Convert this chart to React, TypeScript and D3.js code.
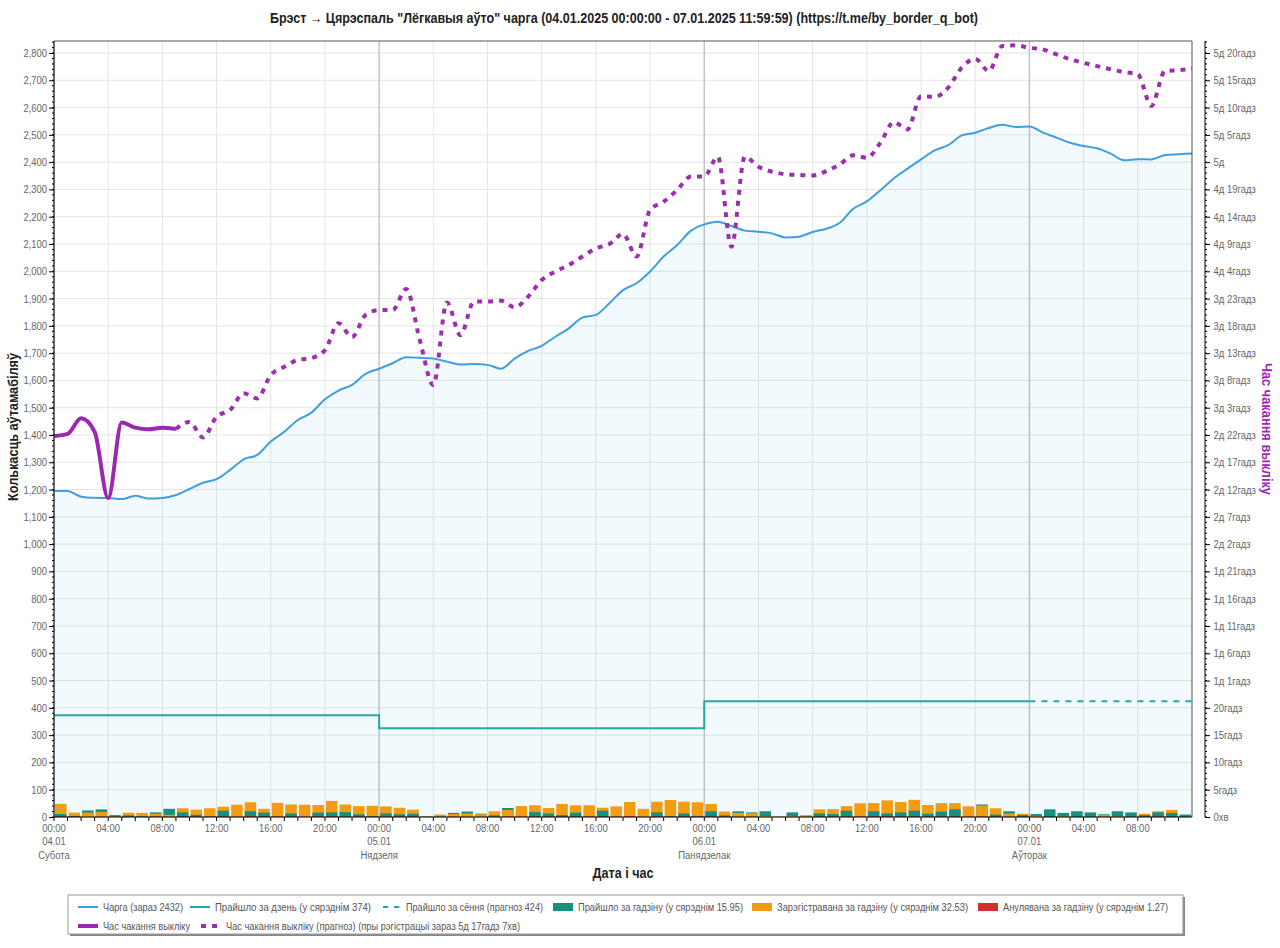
import { useEffect, useRef } from "react"
import * as d3 from "d3"

const title =
  'Брэст → Цярэспаль "Лёгкавыя аўто" чарга (04.01.2025 00:00:00 - 07.01.2025 11:59:59) (https://t.me/by_border_q_bot)'
const startTime = new Date(2025, 0, 4, 0, 0)
const endTime = new Date(2025, 0, 7, 12, 0)
const weekdays = ["Нядзеля", "Панядзелак", "Аўторак", "Серада", "Чацвер", "Пятніца", "Субота"]

// queue size at each hour (00:00 04.01 ... 12:00 07.01)
const queue = [
  1195, 1195, 1174, 1170, 1169, 1165, 1177, 1167, 1169, 1180, 1202, 1225, 1238, 1272, 1311, 1327,
  1376, 1412, 1455, 1482, 1531, 1563, 1584, 1624, 1643, 1663, 1685, 1683, 1680, 1669, 1658, 1660,
  1657, 1643, 1680, 1708, 1727, 1760, 1791, 1830, 1840, 1883, 1931, 1956, 1999, 2054, 2096, 2148,
  2172, 2182, 2166, 2149, 2145, 2139, 2124, 2127, 2144, 2156, 2178, 2229, 2256, 2297, 2341, 2376,
  2410, 2443, 2462, 2498, 2508, 2525, 2537, 2529, 2531, 2508, 2490, 2471, 2459, 2451, 2431, 2407,
  2411, 2410, 2426, 2429, 2432,
]

// passed per day (04.01, 05.01, 06.01) and today's forecast
const passedPerDay = [373, 325, 424]
const passedTodayForecast = 424

// per hour bars
const passedHourly = [
  11, 4, 24, 28, 7, 6, 3, 17, 30, 17, 8, 2, 23, 0, 21, 16, 0, 13, 0, 16, 17, 18, 10, 3,
  13, 10, 12, 2, 2, 15, 20, 12, 6, 33, 0, 18, 13, 7, 16, 0, 23, 0, 0, 0, 17, 2, 13, 4,
  21, 6, 21, 17, 21, 1, 17, 0, 13, 11, 23, 0, 21, 13, 17, 23, 12, 20, 28, 0, 46, 9, 21, 7,
  11, 28, 15, 21, 17, 10, 21, 17, 7, 17, 15, 9,
]
const registeredHourly = [
  48, 16, 16, 18, 2, 16, 15, 12, 8, 32, 27, 32, 38, 45, 54, 30, 52, 46, 45, 44, 59, 46, 40, 41,
  39, 34, 27, 1, 9, 11, 13, 10, 21, 26, 40, 43, 33, 48, 43, 43, 34, 39, 55, 30, 56, 62, 56, 54,
  48, 20, 15, 14, 3, 1, 3, 7, 28, 29, 40, 50, 51, 61, 55, 63, 44, 51, 51, 39, 42, 32, 13, 12,
  4, 0, 2, 0, 0, 7, 2, 0, 12, 21, 26, 0,
]
const cancelledHourly = [
  2, 1, 0, 1, 0, 1, 0, 2, 1, 1, 2, 1, 2, 1, 3, 1, 2, 1, 1, 2, 3, 1, 2, 1,
  1, 2, 1, 0, 0, 1, 1, 0, 1, 2, 1, 2, 1, 2, 1, 2, 1, 1, 3, 1, 2, 3, 2, 2,
  2, 1, 1, 1, 0, 0, 0, 1, 1, 1, 2, 2, 2, 3, 2, 2, 1, 2, 2, 1, 2, 1, 1, 1,
  0, 0, 0, 0, 0, 1, 0, 0, 1, 1, 1, 0,
]

// wait time in minutes: actual (hours 0..9), forecast (hours 9..84)
const waitActual = [4188, 4212, 4383, 4236, 3504, 4338, 4281, 4263, 4281, 4266]
const waitForecastStart = 9
const waitForecast = [
  4266, 4344, 4173, 4401, 4476, 4659, 4602, 4860, 4950, 5025, 5046, 5133, 5430, 5277, 5520, 5574,
  5574, 5805, 5244, 4749, 5658, 5298, 5667, 5667, 5676, 5604, 5721, 5904, 5997, 6069, 6162, 6252,
  6300, 6411, 6162, 6675, 6765, 6894, 7041, 7044, 7260, 6270, 7260, 7149, 7095, 7068, 7059, 7053,
  7101, 7176, 7275, 7248, 7413, 7641, 7560, 7926, 7917, 8019, 8238, 8337, 8202, 8478, 8484, 8457,
  8439, 8385, 8331, 8292, 8256, 8220, 8190, 8166, 7818, 8202, 8211, 8227,
]

// legend: swatch x and text end x are layout positions
const legendItems = [
  { label: "Чарга (зараз 2432)", kind: "line", color: "#3e9fdc", row: 0, x0: 78, x1: 183 },
  { label: "Прайшло за дзень (у сярэднім 374)", kind: "line", color: "#26a8a0", row: 0, x0: 190, x1: 371 },
  { label: "Прайшло за сёння (прагноз 424)", kind: "dash", color: "#26a8a0", row: 0, x0: 381, x1: 543 },
  { label: "Прайшло за гадзіну (у сярэднім 15.95)", kind: "box", color: "#16917f", row: 0, x0: 553, x1: 743 },
  { label: "Зарэгістравана за гадзіну (у сярэднім 32.53)", kind: "box", color: "#f39c12", row: 0, x0: 752, x1: 968 },
  { label: "Анулявана за гадзіну (у сярэднім 1.27)", kind: "box", color: "#d32f2f", row: 0, x0: 978, x1: 1168 },
  { label: "Час чакання выкліку", kind: "thick", color: "#9c27b0", row: 1, x0: 78, x1: 190 },
  {
    label: "Час чакання выкліку (прагноз) (пры рэгістрацыі зараз 5д 17гадз 7хв)",
    kind: "dots",
    color: "#9c2fae",
    row: 1,
    x0: 201,
    x1: 520,
  },
]

const FONT = "'Liberation Sans', Arial, sans-serif"
const NARROW = "scale(0.86,1)"

function fmtDuration(m: number) {
  if (m === 0) return "0хв"
  const d = Math.floor(m / 1440)
  const h = Math.floor((m % 1440) / 60)
  const mi = m % 60
  const parts: string[] = []
  if (d) parts.push(d + "д")
  if (h) parts.push(h + "гадз")
  if (mi) parts.push(mi + "хв")
  return parts.join(" ")
}

export default function App() {
  const svgRef = useRef<SVGSVGElement>(null)

  useEffect(() => {
    if (!svgRef.current) return
    const root = d3.select(svgRef.current)
    root.selectAll("*").remove()

    const width = 1280
    const height = 948
    const margin = { top: 41, right: 88, bottom: 131, left: 54 }
    const w = width - margin.left - margin.right
    const h = height - margin.top - margin.bottom

    root.attr("width", width).attr("height", height).style("font-family", FONT)
    root.append("rect").attr("width", width).attr("height", height).attr("fill", "#fff")

    const at = (i: number) => d3.timeHour.offset(startTime, i)
    const x = d3.scaleTime().domain([startTime, endTime]).range([0, w])
    const y = d3.scaleLinear().domain([0, 2844]).range([h, 0])
    const yRight = d3.scaleLinear().domain([0, 2844 * 3]).range([h, 0])

    const g = root.append("g").attr("transform", `translate(${margin.left},${margin.top})`)

    // grid
    const grid = g.append("g")
    grid
      .selectAll("line.hg")
      .data(d3.range(0, 2801, 100))
      .enter()
      .append("line")
      .attr("x1", 0)
      .attr("x2", w)
      .attr("y1", (d) => y(d))
      .attr("y2", (d) => y(d))
      .attr("stroke", "#e4e4e4")
    const xTicks = d3.timeHour.every(4)!.range(startTime, endTime)
    grid
      .selectAll("line.vg")
      .data(xTicks)
      .enter()
      .append("line")
      .attr("x1", (d) => x(d))
      .attr("x2", (d) => x(d))
      .attr("y1", 0)
      .attr("y2", h)
      .attr("stroke", (d) => (d.getHours() === 0 ? "#c4c4c4" : "#e4e4e4"))
      .attr("stroke-width", (d) => (d.getHours() === 0 ? 1.5 : 1))

    // queue area
    const area = d3
      .area<number>()
      .x((_, i) => x(at(i)))
      .y0(h)
      .y1((d) => y(d))
      .curve(d3.curveMonotoneX)
    g.append("path").datum(queue).attr("d", area).attr("fill", "rgba(54,162,235,0.06)")

    // hourly bars (larger value behind, smaller in front)
    const barW = x(at(1)) - x(at(0))
    const bars = g.append("g")
    passedHourly.forEach((p, i) => {
      const series = [
        { v: p, c: "#16917f" },
        { v: registeredHourly[i], c: "#f39c12" },
        { v: cancelledHourly[i], c: "#d32f2f" },
      ].sort((a, b) => b.v - a.v)
      series.forEach((s) => {
        if (s.v <= 0) return
        bars
          .append("rect")
          .attr("x", x(at(i)) + 1)
          .attr("width", barW - 2)
          .attr("y", y(s.v))
          .attr("height", h - y(s.v))
          .attr("fill", s.c)
      })
    })

    // passed per day step line
    const dayPts: [number, number][] = []
    passedPerDay.forEach((v, d) => {
      dayPts.push([x(at(d * 24)), y(v)])
      dayPts.push([x(at((d + 1) * 24)), y(v)])
    })
    g.append("path")
      .attr("d", d3.line()(dayPts))
      .attr("fill", "none")
      .attr("stroke", "#26a8a0")
      .attr("stroke-width", 2)
    g.append("path")
      .attr(
        "d",
        d3.line()([
          [x(at(72)), y(passedTodayForecast)],
          [x(endTime), y(passedTodayForecast)],
        ])
      )
      .attr("fill", "none")
      .attr("stroke", "#26a8a0")
      .attr("stroke-width", 2)
      .attr("stroke-dasharray", "6,6")

    // queue line
    const qLine = d3
      .line<number>()
      .x((_, i) => x(at(i)))
      .y((d) => y(d))
      .curve(d3.curveMonotoneX)
    g.append("path")
      .datum(queue)
      .attr("d", qLine)
      .attr("fill", "none")
      .attr("stroke", "#3e9fdc")
      .attr("stroke-width", 2)

    // wait time
    const wLine = (offset: number) =>
      d3
        .line<number>()
        .x((_, i) => x(at(i + offset)))
        .y((d) => yRight(d))
        .curve(d3.curveMonotoneX)
    g.append("path")
      .datum(waitForecast)
      .attr("d", wLine(waitForecastStart))
      .attr("fill", "none")
      .attr("stroke", "#9c2fae")
      .attr("stroke-width", 4)
      .attr("stroke-dasharray", "5,6")
    g.append("path")
      .datum(waitActual)
      .attr("d", wLine(0))
      .attr("fill", "none")
      .attr("stroke", "#9c27b0")
      .attr("stroke-width", 4)
      .attr("stroke-linejoin", "round")

    // frame
    g.append("path")
      .attr("d", `M0,0H${w}V${h}`)
      .attr("fill", "none")
      .attr("stroke", "#555")
      .attr("stroke-width", 1)

    // left axis
    const yAxis = g.append("g").call(
      d3
        .axisLeft(y)
        .tickValues(d3.range(0, 2801, 100))
        .tickFormat(d3.format(","))
        .tickSize(5)
        .tickPadding(3)
    )
    yAxis.select(".domain").attr("stroke", "#000").attr("d", `M0,0V${h}`)
    yAxis
      .selectAll("text")
      .attr("fill", "#666")
      .attr("transform", NARROW)
      .style("font-size", "11px")
      .style("font-family", FONT)
    g.append("g")
      .selectAll("line")
      .data(d3.range(0, 2844, 20))
      .enter()
      .append("line")
      .attr("x1", -2)
      .attr("x2", 0)
      .attr("y1", (d) => y(d))
      .attr("y2", (d) => y(d))
      .attr("stroke", "#000")

    // right axis
    const rightX = w + 13
    const yrAxis = g
      .append("g")
      .attr("transform", `translate(${rightX},0)`)
      .call(
        d3
          .axisRight(yRight)
          .tickValues(d3.range(0, 8401, 300))
          .tickFormat((d) => fmtDuration(+d))
          .tickSize(5)
          .tickPadding(5)
      )
    yrAxis.select(".domain").attr("stroke", "#000").attr("d", `M0,0V${h}`)
    yrAxis
      .selectAll("text")
      .attr("fill", "#666")
      .attr("transform", NARROW)
      .style("font-size", "11px")
      .style("font-family", FONT)
    g.append("g")
      .attr("transform", `translate(${rightX},0)`)
      .selectAll("line")
      .data(d3.range(0, 2844 * 3, 60))
      .enter()
      .append("line")
      .attr("x1", 0)
      .attr("x2", 2)
      .attr("y1", (d) => yRight(d))
      .attr("y2", (d) => yRight(d))
      .attr("stroke", "#000")

    // x axis
    const xAxisG = g.append("g").attr("transform", `translate(0,${h})`)
    xAxisG.append("line").attr("x1", 0).attr("x2", w).attr("stroke", "#000")
    xAxisG
      .selectAll("line.minor")
      .data(d3.timeHour.range(startTime, endTime))
      .enter()
      .append("line")
      .attr("x1", (d) => x(d))
      .attr("x2", (d) => x(d))
      .attr("y1", 0)
      .attr("y2", 4)
      .attr("stroke", "#000")
    const fmtHour = d3.timeFormat("%H:%M")
    const fmtDay = d3.timeFormat("%d.%m")
    const lab = xAxisG
      .selectAll("g.lab")
      .data(xTicks)
      .enter()
      .append("g")
      .attr("transform", (d) => `translate(${x(d)},0) ${NARROW}`)
    const tickText = (sel: d3.Selection<SVGGElement, Date, any, any>, dy: number, f: (d: Date) => string) =>
      sel
        .append("text")
        .attr("y", dy)
        .attr("text-anchor", "middle")
        .attr("fill", "#666")
        .style("font-size", "11px")
        .text(f)
    tickText(lab, 15, fmtHour)
    const midnight = lab.filter((d) => d.getHours() === 0)
    tickText(midnight, 28, fmtDay)
    tickText(midnight, 42, (d) => weekdays[d.getDay()])

    // titles
    const bold = (t: string, tr: string, len: number, color = "#222") =>
      root
        .append("text")
        .attr("transform", tr)
        .attr("text-anchor", "middle")
        .attr("textLength", len)
        .attr("lengthAdjust", "spacingAndGlyphs")
        .style("font-size", "14px")
        .style("font-weight", "bold")
        .attr("fill", color)
        .text(t)
    bold(title, "translate(624,23)", 708)
    bold("Дата і час", `translate(${margin.left + w / 2},878)`, 61)
    bold("Колькасць аўтамабіляў", `translate(18,${margin.top + h / 2 - 2}) rotate(-90)`, 148)
    bold("Час чакання выкліку", `translate(1262,${margin.top + h / 2}) rotate(90)`, 132, "#9c27b0")

    // legend
    const lg = root.append("g")
    lg.append("rect").attr("x", 70).attr("y", 897).attr("width", 1115).attr("height", 39).attr("fill", "#888")
    lg.append("rect")
      .attr("x", 68)
      .attr("y", 895)
      .attr("width", 1115)
      .attr("height", 39)
      .attr("fill", "#fff")
      .attr("stroke", "#999")
    const rowY = [907, 926]
    legendItems.forEach((it) => {
      const cy = rowY[it.row]
      const sw = lg.append("g").attr("transform", `translate(${it.x0},${cy})`)
      if (it.kind === "box") {
        sw.append("rect").attr("x", 0).attr("y", -4).attr("width", 20).attr("height", 8).attr("fill", it.color)
      } else {
        sw.append("line")
          .attr("x1", it.kind === "dash" ? 2 : 0)
          .attr("x2", 20)
          .attr("stroke", it.color)
          .attr("stroke-width", it.kind === "thick" || it.kind === "dots" ? 4 : 2)
          .attr("stroke-dasharray", it.kind === "dash" ? "5,6" : it.kind === "dots" ? "5,6" : null)
      }
      lg.append("text")
        .attr("x", it.x0 + 25)
        .attr("y", cy + 3.5)
        .attr("fill", "#555")
        .attr("textLength", it.x1 - it.x0 - 25)
        .attr("lengthAdjust", "spacingAndGlyphs")
        .style("font-size", "10.5px")
        .text(it.label)
    })
  }, [])

  return (
    <div style={{ position: "absolute", left: 0, top: 0 }}>
      <svg ref={svgRef}></svg>
    </div>
  )
}
